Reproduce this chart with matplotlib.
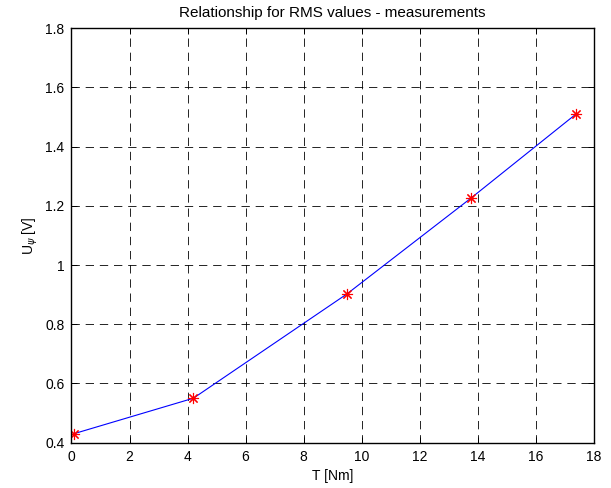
import matplotlib.pyplot as plt

# measured RMS values
torque = [0.08, 4.2, 9.5, 13.75, 17.38]
u_psi = [0.43, 0.55, 0.903, 1.225, 1.51]

xticks = list(range(0, 19, 2))
yticks = [0.4, 0.6, 0.8, 1.0, 1.2, 1.4, 1.6, 1.8]
ytick_labels = ['0.4', '0.6', '0.8', '1', '1.2', '1.4', '1.6', '1.8']

plt.rcParams['font.family'] = ['Liberation Sans', 'DejaVu Sans']
plt.rcParams['font.size'] = 10

fig = plt.figure(figsize=(6.11, 4.88), dpi=100)
ax = fig.add_axes([0.117, 0.093, 0.855, 0.849])

ax.plot(torque, u_psi, color='blue', linewidth=0.8)
# matlab style '*' marker (plus and cross combined)
ax.plot(torque, u_psi, linestyle='none', marker=(8, 2, 0), color='red',
        markersize=8, markeredgewidth=0.8)

ax.set_xlim(0, 18)
ax.set_ylim(0.4, 1.8)
ax.set_xticks(xticks)
ax.set_yticks(yticks)
ax.set_yticklabels(ytick_labels)
ax.grid(True, color='black', linestyle=(0, (10, 7)), linewidth=0.6)
ax.tick_params(direction='in', top=True, right=True, length=4, width=0.7, pad=5)
for s in ax.spines.values():
    s.set_linewidth(1.0)

ax.set_xlabel('T [Nm]', labelpad=4)
ax.set_ylabel(r'U$_\psi$ [V]', labelpad=4)
ax.set_title('Relationship for RMS values - measurements', fontsize=11, pad=8)

fig.savefig('out.png', dpi=100)
